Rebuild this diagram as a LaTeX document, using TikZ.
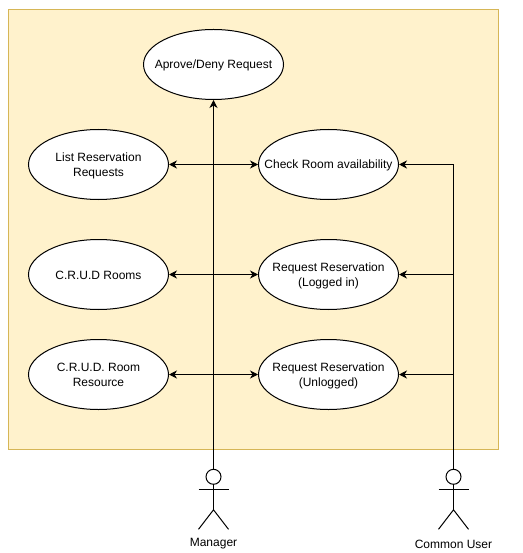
\documentclass[tikz,border=0pt]{standalone}
\usepackage{fontspec}
\setmainfont{Liberation Sans}
\usetikzlibrary{arrows.meta,shapes.geometric}
\newcommand{\uctext}[1]{\makebox[0pt]{\smash{\raisebox{-4.5pt}{\begin{tabular}{@{}c@{}}#1\end{tabular}}}}}
\tikzset{
  every node/.style={font=\fontsize{12}{15}\selectfont},
  usecase/.style={draw=black,fill=white,ellipse,line width=1pt,minimum width=140pt,minimum height=70pt,inner sep=0pt},
  head/.style={draw=black,fill=white,circle,line width=1pt,minimum size=15pt,inner sep=0pt},
  limb/.style={draw=black,line width=1pt},
  link/.style={draw=black,line width=1pt,-{Stealth[length=8pt,width=8pt,inset=2.5pt]}},
  biglink/.style={draw=black,line width=1pt,{Stealth[length=8pt,width=8pt,inset=2.5pt]}-{Stealth[length=8pt,width=8pt,inset=2.5pt]}},
  label/.style={text=black,inner sep=0pt,anchor=center}
}
\begin{document}
\begin{tikzpicture}[x=1pt,y=-1pt]
\useasboundingbox (0,0) rectangle (522,553);
\fill[white] (0,0) rectangle (522,553);
\draw[draw={rgb,255:red,214;green,182;blue,86},fill={rgb,255:red,255;green,242;blue,204},line width=1pt] (8.5,9.5) rectangle (498.5,449);
\node[usecase] (approve) at (213.5,64.5) {\uctext{Aprove/Deny Request}};
\node[usecase] (list) at (98.5,164.5) {\uctext{List Reservation\\Requests}};
\node[usecase] (check) at (328.5,164.5) {\uctext{Check Room availability}};
\node[usecase] (rooms) at (98.5,274.5) {\uctext{C.R.U.D Rooms}};
\node[usecase] (logged) at (328.5,274.5) {\uctext{Request Reservation\\(Logged in)}};
\node[usecase] (resource) at (98.5,374.5) {\uctext{C.R.U.D. Room\\Resource}};
\node[usecase] (unlogged) at (328.5,374.5) {\uctext{Request Reservation\\(Unlogged)}};
\node[head] (mgr) at (213.5,476.8) {};
\node[head] (usr) at (453.5,476.8) {};
\draw[limb] (mgr.south) -- ++(0,25) coordinate (mgrhip) ++(-15,-20) -- ++(30,0);
\draw[limb] (198.5,529.3) -- (mgrhip) -- (228.5,529.3);
\draw[limb] (usr.south) -- ++(0,25) coordinate (usrhip) ++(-15,-20) -- ++(30,0);
\draw[limb] (438.5,529.3) -- (usrhip) -- (468.5,529.3);
\node[label] (mgrlabel) at (213.5,544) {Manager};
\node[label] (usrlabel) at (453.5,544) {Common User};
\draw[link] (mgr.north) -- (approve.south);
\draw[biglink] (list.east) -- (check.west);
\draw[biglink] (rooms.east) -- (logged.west);
\draw[biglink] (resource.east) -- (unlogged.west);
\draw[link] (usr.north) |- (check.east);
\draw[link] (usr.north) |- (logged.east);
\draw[link] (usr.north) |- (unlogged.east);
\end{tikzpicture}
\end{document}
